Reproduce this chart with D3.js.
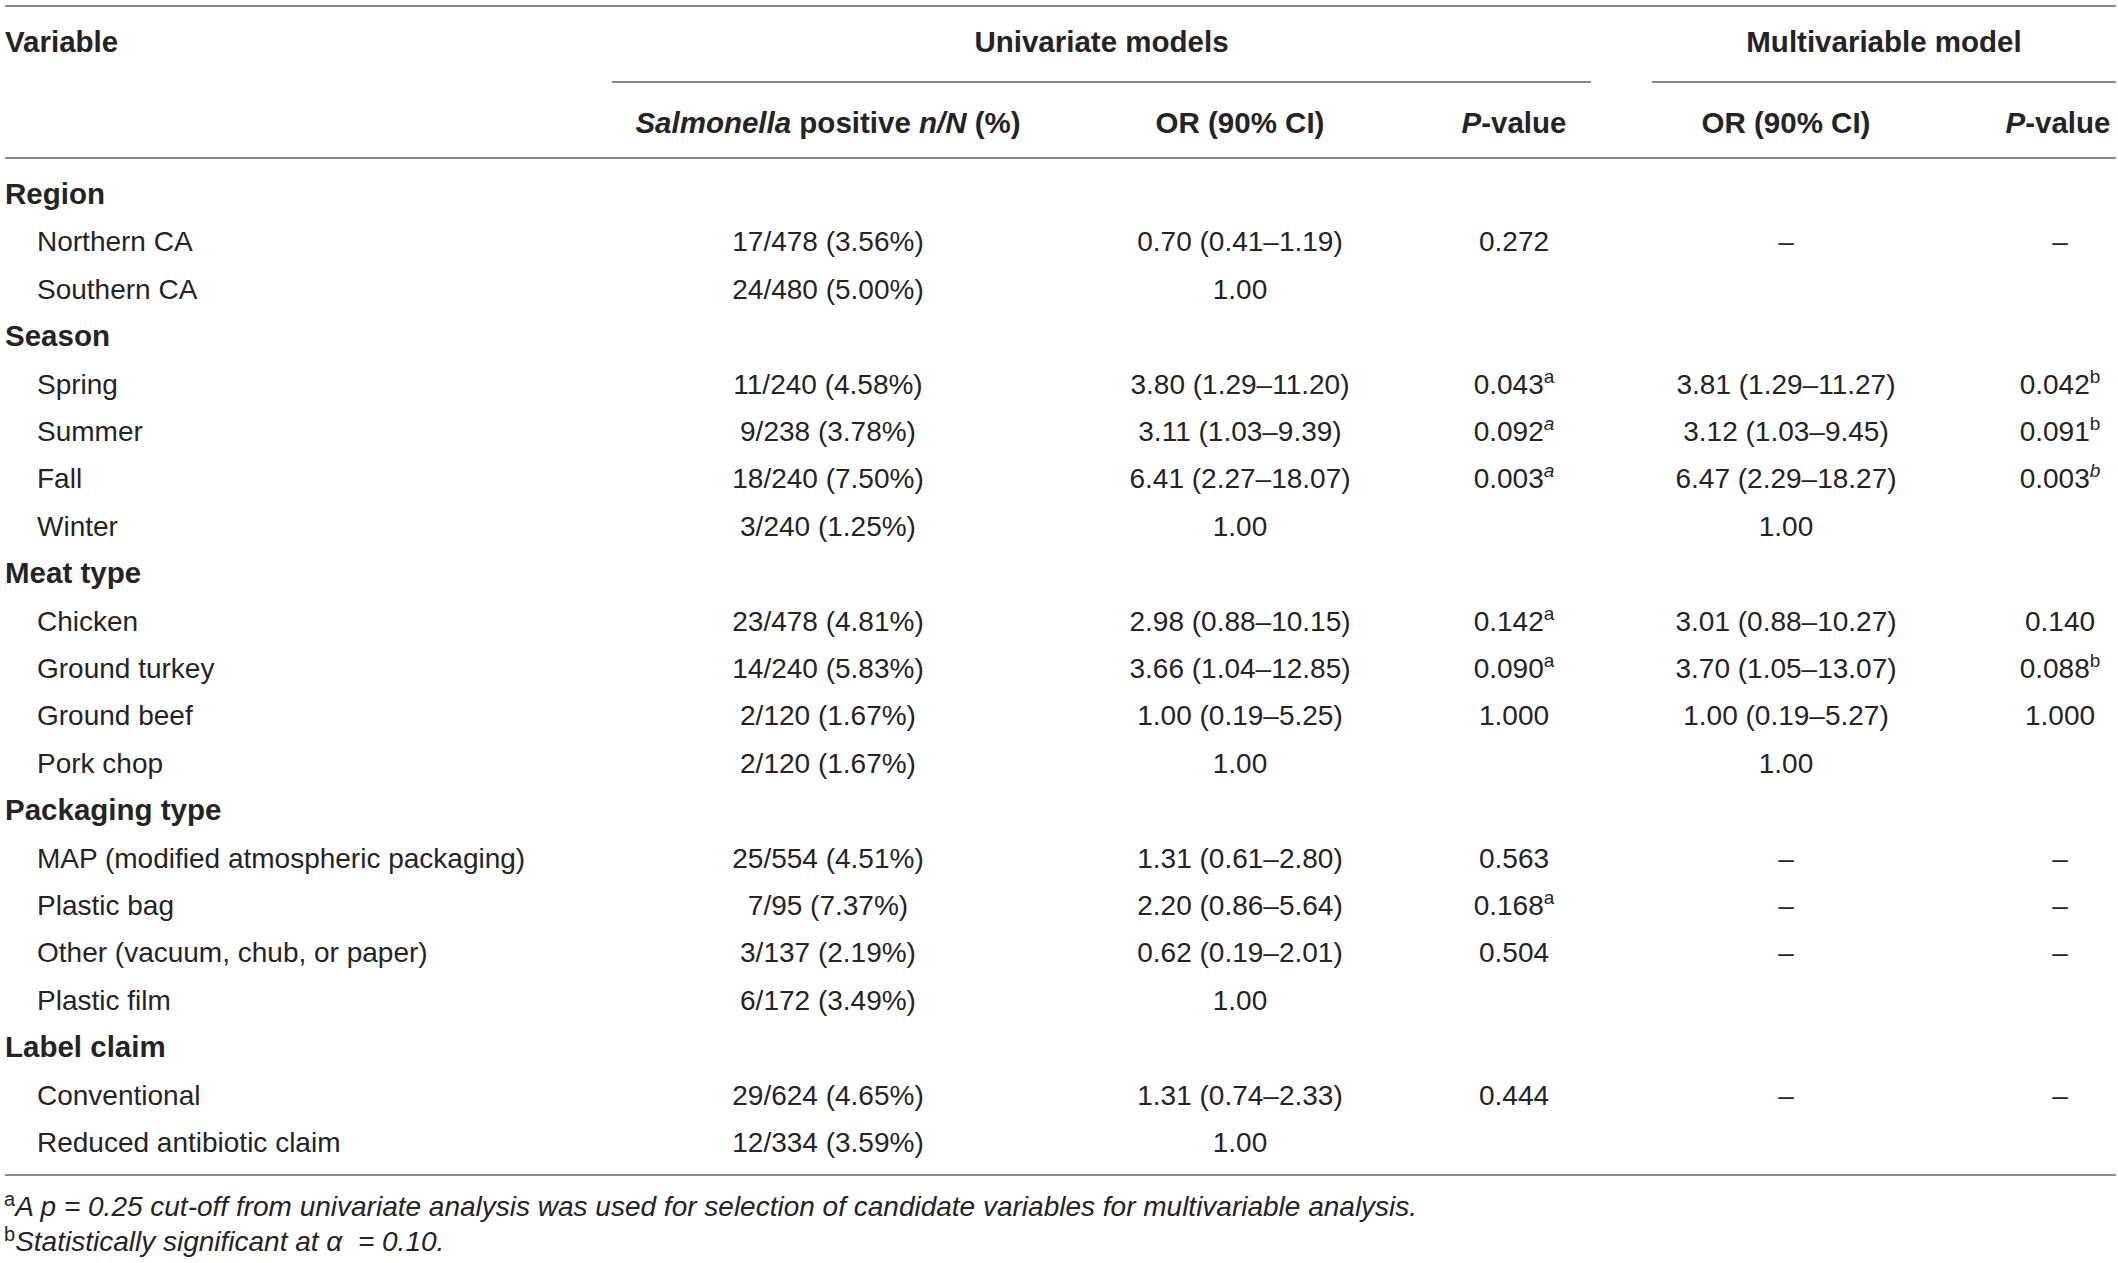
<!DOCTYPE html>
<html>
<head>
<meta charset="utf-8">
<script src="https://cdn.jsdelivr.net/npm/d3@7"></script>
<style>
  html, body { margin: 0; padding: 0; background: #fff; }
  svg { display: block; }
  text { font-family: "Liberation Sans", Arial, Helvetica, sans-serif; fill: #262324; }
</style>
</head>
<body>
<svg id="chart" width="2118" height="1263"></svg>
<script>
// ---------------- DATA ----------------
const columns = ["variable", "nN", "orUni", "pUni", "orMulti", "pMulti"];
const groupHeaders = ["Univariate models", "Multivariable model"];

const rowLabels = [
  "Region", "Northern CA", "Southern CA",
  "Season", "Spring", "Summer", "Fall", "Winter",
  "Meat type", "Chicken", "Ground turkey", "Ground beef", "Pork chop",
  "Packaging type", "MAP (modified atmospheric packaging)", "Plastic bag", "Other (vacuum, chub, or paper)", "Plastic film",
  "Label claim", "Conventional", "Reduced antibiotic claim"
];
const rowIsGroup = [1,0,0, 1,0,0,0,0, 1,0,0,0,0, 1,0,0,0,0, 1,0,0];

const positiveNN = [
  "", "17/478 (3.56%)", "24/480 (5.00%)",
  "", "11/240 (4.58%)", "9/238 (3.78%)", "18/240 (7.50%)", "3/240 (1.25%)",
  "", "23/478 (4.81%)", "14/240 (5.83%)", "2/120 (1.67%)", "2/120 (1.67%)",
  "", "25/554 (4.51%)", "7/95 (7.37%)", "3/137 (2.19%)", "6/172 (3.49%)",
  "", "29/624 (4.65%)", "12/334 (3.59%)"
];
const orUni = [
  "", "0.70 (0.41–1.19)", "1.00",
  "", "3.80 (1.29–11.20)", "3.11 (1.03–9.39)", "6.41 (2.27–18.07)", "1.00",
  "", "2.98 (0.88–10.15)", "3.66 (1.04–12.85)", "1.00 (0.19–5.25)", "1.00",
  "", "1.31 (0.61–2.80)", "2.20 (0.86–5.64)", "0.62 (0.19–2.01)", "1.00",
  "", "1.31 (0.74–2.33)", "1.00"
];
const pUni = [
  "", "0.272", "",
  "", "0.043", "0.092", "0.003", "",
  "", "0.142", "0.090", "1.000", "",
  "", "0.563", "0.168", "0.504", "",
  "", "0.444", ""
];
// superscript marks: "a" upright, "a*" italic
const pUniSup = [
  "", "", "",
  "", "a", "a*", "a*", "",
  "", "a", "a", "", "",
  "", "", "a", "", "",
  "", "", ""
];
const orMulti = [
  "", "–", "",
  "", "3.81 (1.29–11.27)", "3.12 (1.03–9.45)", "6.47 (2.29–18.27)", "1.00",
  "", "3.01 (0.88–10.27)", "3.70 (1.05–13.07)", "1.00 (0.19–5.27)", "1.00",
  "", "–", "–", "–", "",
  "", "–", ""
];
const pMulti = [
  "", "–", "",
  "", "0.042", "0.091", "0.003", "",
  "", "0.140", "0.088", "1.000", "",
  "", "–", "–", "–", "",
  "", "–", ""
];
const pMultiSup = [
  "", "", "",
  "", "b", "b", "b*", "",
  "", "", "b", "", "",
  "", "", "", "", "",
  "", "", ""
];
const footnotes = [
  { mark: "a", text: "A p = 0.25 cut-off from univariate analysis was used for selection of candidate variables for multivariable analysis." },
  { mark: "b", text: "Statistically significant at α  = 0.10." }
];

// ---------------- LAYOUT ----------------
const W = 2118, H = 1263;
const svg = d3.select("#chart");
const FS = 28;     // regular body text
const FSB = 29.5;  // bold text

const colX = d3.scaleOrdinal()
  .domain(columns)
  .range([5, 828, 1240, 1514, 1786, 2060]);

const rowY = d3.scaleLinear().domain([0, rowLabels.length - 1]).range([194, 1142]);

const lineColor = "#8a8a8a";
const rules = [
  { x1: 5, x2: 2116, y: 6 },
  { x1: 612, x2: 1591, y: 82 },
  { x1: 1652, x2: 2116, y: 82 },
  { x1: 5, x2: 2116, y: 158 },
  { x1: 5, x2: 2116, y: 1175 }
];
svg.selectAll("line.rule").data(rules).enter().append("line")
  .attr("class", "rule")
  .attr("x1", d => d.x1).attr("x2", d => d.x2)
  .attr("y1", d => d.y).attr("y2", d => d.y)
  .attr("stroke", lineColor).attr("stroke-width", 2);

// ---------- header ----------
const hdr = svg.append("g").attr("font-weight", "bold").attr("font-size", FSB);
hdr.append("text").attr("x", colX("variable")).attr("y", 52).text("Variable");
hdr.append("text").attr("x", (612 + 1591) / 2).attr("y", 52).attr("text-anchor", "middle").text(groupHeaders[0]);
hdr.append("text").attr("x", (1652 + 2116) / 2).attr("y", 52).attr("text-anchor", "middle").text(groupHeaders[1]);

function richHeader(x, parts) {
  const t = hdr.append("text").attr("x", x).attr("y", 133).attr("text-anchor", "middle");
  parts.forEach(p => t.append("tspan").attr("font-style", p[1] ? "italic" : "normal").text(p[0]));
}
richHeader(colX("nN"), [["Salmonella", 1], [" positive ", 0], ["n/N", 1], [" (%)", 0]]);
richHeader(colX("orUni"), [["OR (90% CI)", 0]]);
richHeader(colX("pUni"), [["P", 1], ["-value", 0]]);
richHeader(colX("orMulti"), [["OR (90% CI)", 0]]);
richHeader(colX("pMulti") - 2, [["P", 1], ["-value", 0]]);

// ---------- body ----------
const body = svg.append("g").attr("font-size", FS);
const base = i => rowY(i) + 10;

body.selectAll("text.label").data(rowLabels).enter().append("text")
  .attr("class", "label")
  .attr("x", (d, i) => rowIsGroup[i] ? colX("variable") : colX("variable") + 32)
  .attr("y", (d, i) => base(i))
  .attr("font-weight", (d, i) => rowIsGroup[i] ? "bold" : "normal")
  .attr("font-size", (d, i) => rowIsGroup[i] ? FSB : FS)
  .text(d => d);

function simpleCol(arr, key) {
  body.selectAll("text." + key).data(arr).enter().append("text")
    .attr("class", key)
    .attr("x", colX(key))
    .attr("y", (d, i) => base(i))
    .attr("text-anchor", "middle")
    .text(d => d);
}
simpleCol(positiveNN, "nN");
simpleCol(orUni, "orUni");
simpleCol(orMulti, "orMulti");

function supCol(arr, sups, key) {
  arr.forEach((v, i) => {
    if (!v) return;
    const t = body.append("text").attr("class", key)
      .attr("x", colX(key)).attr("y", base(i)).attr("text-anchor", "middle");
    t.append("tspan").text(v);
    const s = sups[i];
    if (s) {
      t.append("tspan")
        .attr("font-size", 19)
        .attr("dy", -11)
        .attr("font-style", s.endsWith("*") ? "italic" : "normal")
        .text(s.replace("*", ""));
    }
  });
}
supCol(pUni, pUniSup, "pUni");
supCol(pMulti, pMultiSup, "pMulti");

// ---------- footnotes ----------
const fn = svg.append("g").attr("font-size", 28);
const fnY = [1216, 1251];
footnotes.forEach((f, i) => {
  const t = fn.append("text").attr("x", 4).attr("y", fnY[i]).style("white-space", "pre");
  t.append("tspan").attr("font-size", 20).attr("dy", -10).text(f.mark);
  t.append("tspan").attr("font-style", "italic").attr("dy", 10).text(f.text);
});
</script>
</body>
</html>
